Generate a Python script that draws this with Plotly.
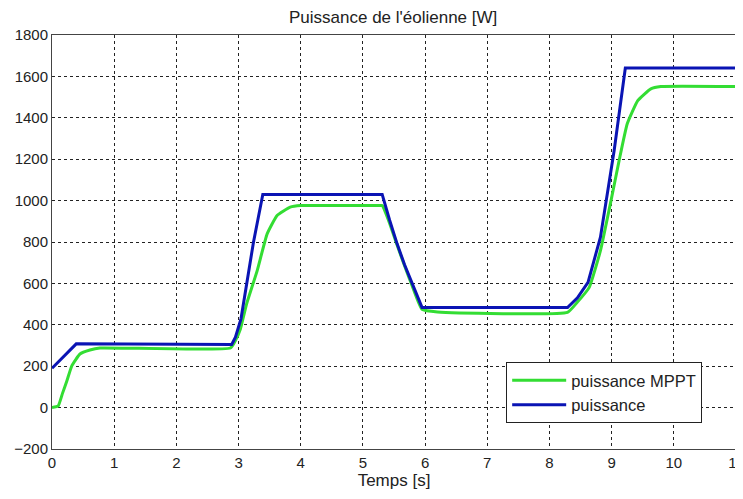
import plotly.graph_objects as go

# Blue curve: "puissance"
t_p = [0.0, 0.39, 2.89, 2.95, 3.04, 3.13, 3.24, 3.39, 5.31, 5.43, 5.55, 5.67, 5.79, 5.95,
       8.29, 8.45, 8.62, 8.82, 9.04, 9.15, 9.22, 11.0]
p = [190, 308, 305, 340, 430, 598, 799, 1030, 1030, 905, 791, 690, 598, 484,
     483, 530, 605, 823, 1241, 1483, 1640, 1640]

# Green curve: "puissance MPPT"
t_m = [0.0, 0.10, 0.17, 0.24, 0.32, 0.45, 0.61, 0.77, 2.87, 2.95, 3.03, 3.13, 3.30, 3.46,
       3.62, 3.83, 4.0, 5.28, 5.31, 5.43, 5.55, 5.67, 5.79, 5.95, 6.2, 8.29, 8.45, 8.64,
       8.82, 8.99, 9.12, 9.25, 9.42, 9.63, 9.79, 11.0]
p_m = [0, 8, 70, 130, 203, 259, 278, 288, 288, 324, 380, 501, 662, 839,
       928, 968, 976, 976, 976, 890, 785, 685, 590, 475, 462, 460, 510, 581,
       758, 1000, 1193, 1370, 1483, 1540, 1551, 1551]

title = "Puissance de l'éolienne [W]"
xlabel = "Temps [s]"

fig = go.Figure()
fig.add_trace(go.Scatter(x=t_m, y=p_m, mode="lines", name="puissance MPPT",
                         line=dict(color="#33dd33", width=3, shape="spline", smoothing=0.4)))
fig.add_trace(go.Scatter(x=t_p, y=p, mode="lines", name="puissance",
                         line=dict(color="#0a14b4", width=3)))

font = "Liberation Sans, Arial, sans-serif"
fig.update_layout(
    width=735, height=491,
    margin=dict(l=44, r=7, t=27, b=50, autoexpand=False),
    paper_bgcolor="white", plot_bgcolor="white",
    font=dict(family=font, size=15, color="#222"),
    title=dict(text=title, x=0.524, xanchor="center", y=0.981, yanchor="middle",
               font=dict(size=17, color="#222")),
    showlegend=True,
    legend=dict(x=0.664, y=0.21, xanchor="left", yanchor="top",
                bgcolor="white", bordercolor="#222", borderwidth=1,
                font=dict(size=16.5, color="#222"), itemwidth=54,
                tracegroupgap=0),
)
axis_common = dict(showgrid=True, gridcolor="#222", gridwidth=1, griddash="3px,3px",
                   showline=True, linecolor="#444", linewidth=1, mirror=True,
                   ticks="", zeroline=False, automargin=False,
                   ticklabeloverflow="allow",
                   tickfont=dict(size=15, color="#222"))
fig.update_xaxes(range=[0, 11], dtick=1, title=dict(text=xlabel, standoff=0, font=dict(size=17)),
                 **axis_common)
fig.update_yaxes(range=[-200, 1800], dtick=200, **axis_common)

fig.write_html("out.html")
